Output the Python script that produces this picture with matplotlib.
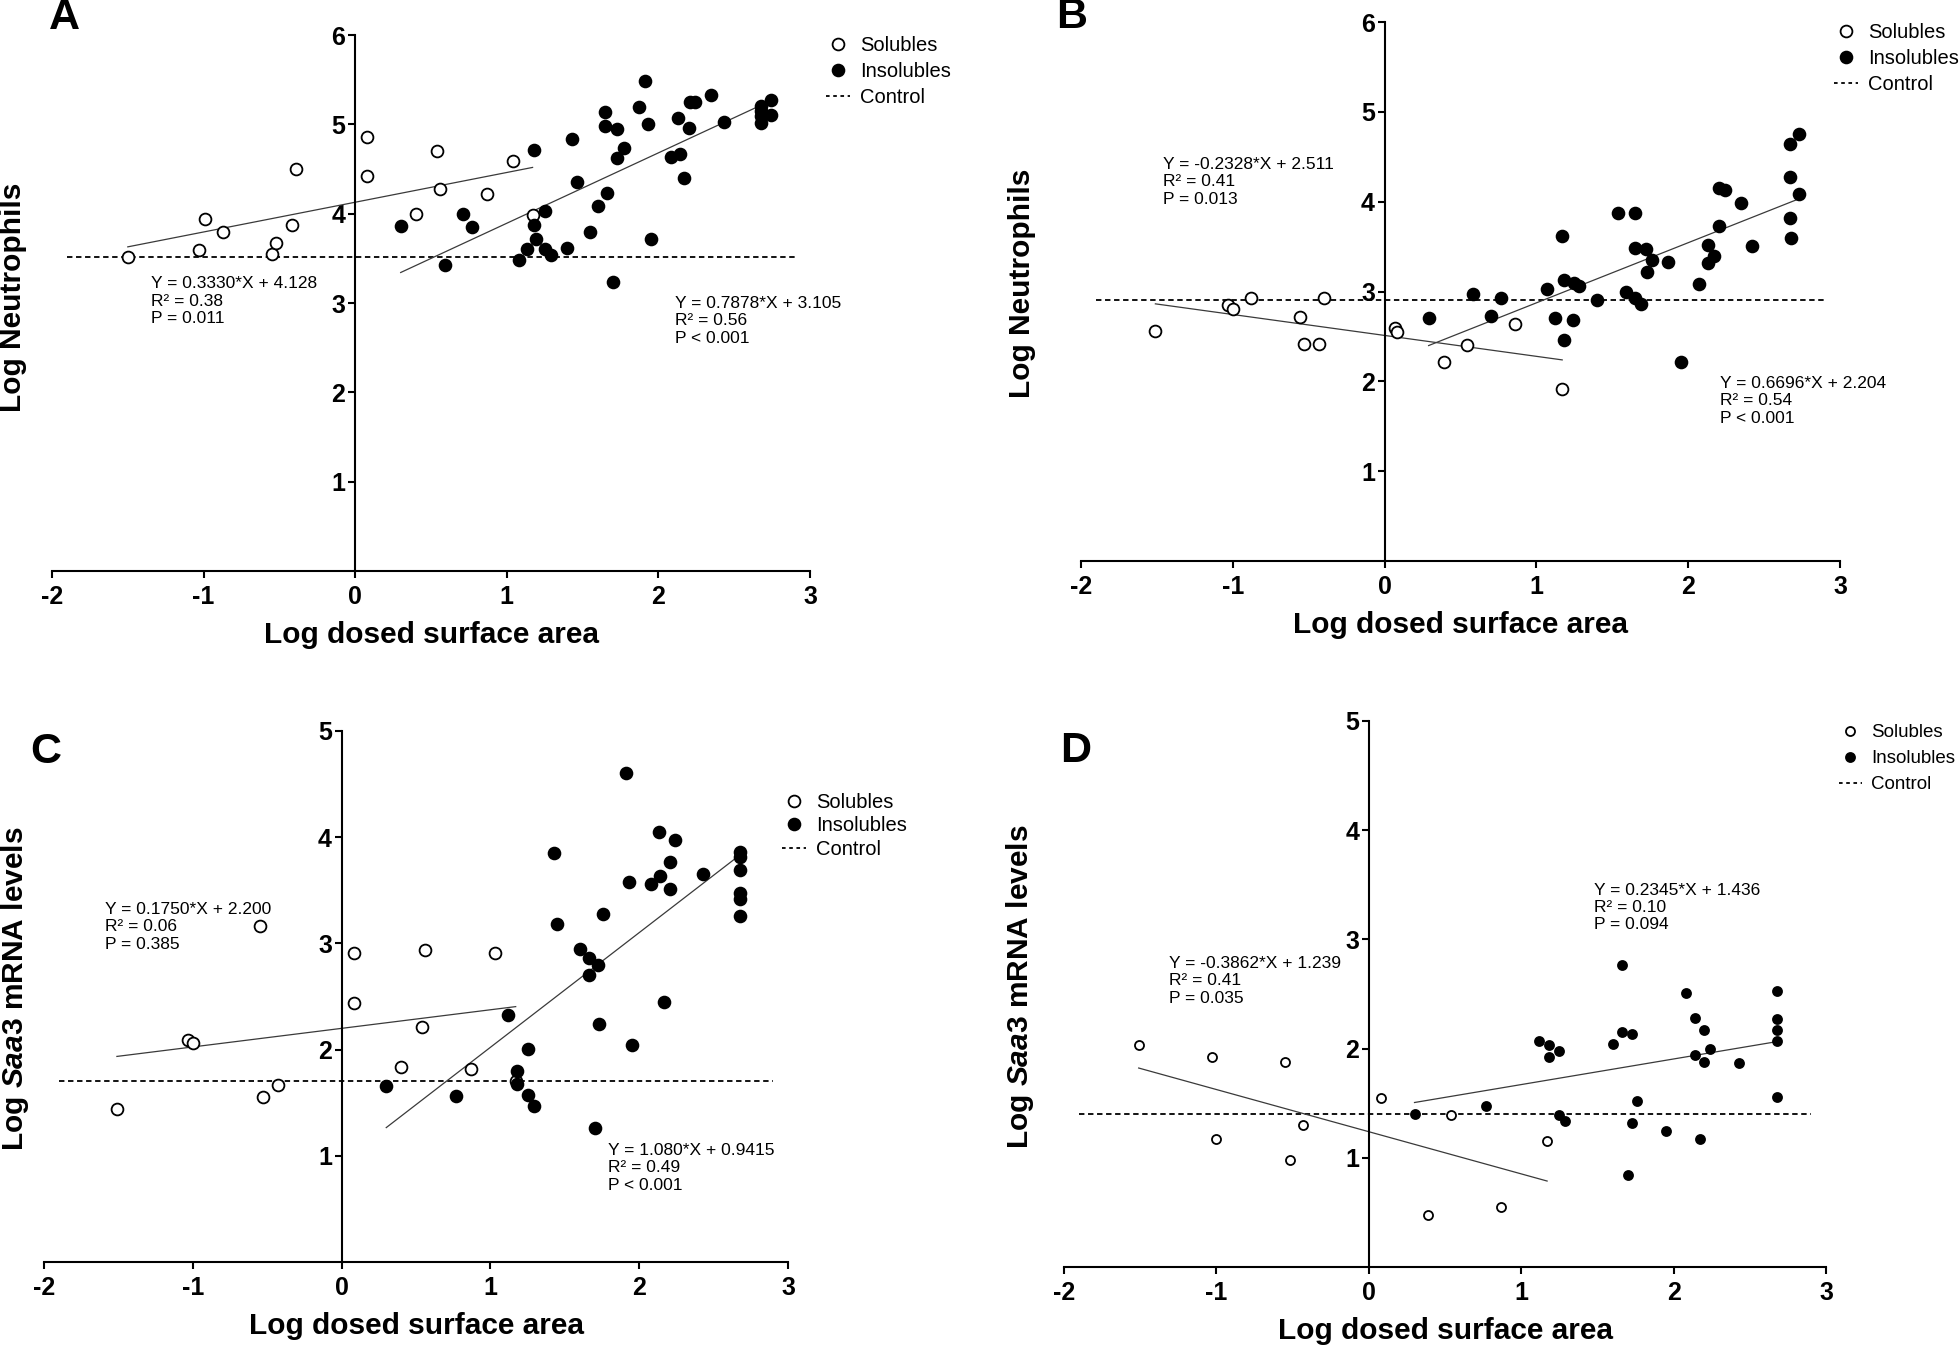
import numpy as np
import matplotlib.pyplot as plt
from matplotlib.lines import Line2D

plt.rcParams['font.family'] = ['Liberation Sans', 'DejaVu Sans']
plt.rcParams['mathtext.fontset'] = 'custom'
plt.rcParams['mathtext.it'] = 'Liberation Sans:italic:bold'
plt.rcParams['mathtext.rm'] = 'Liberation Sans:bold'
plt.rcParams['axes.unicode_minus'] = False

# ---- panel A: neutrophils, 1st data set
a_sol_x = [-1.50, -1.03, -0.99, -0.87, -0.55, -0.52, -0.42, -0.39, 0.08, 0.08, 0.40, 0.54, 0.56, 0.87, 1.04, 1.17]
a_sol_y = [3.51, 3.59, 3.94, 3.79, 3.55, 3.67, 3.87, 4.50, 4.86, 4.42, 4.00, 4.70, 4.28, 4.22, 4.59, 3.98]
a_ins_x = [0.30, 0.59, 0.71, 0.77, 1.08, 1.13, 1.18, 1.18, 1.19, 1.25, 1.25, 1.29, 1.40, 1.43, 1.46,
           1.55, 1.60, 1.65, 1.65, 1.66, 1.70, 1.73, 1.73, 1.77, 1.87, 1.91, 1.93, 1.95, 2.08, 2.13,
           2.14, 2.17, 2.20, 2.21, 2.24, 2.35, 2.43, 2.68, 2.68, 2.68, 2.68, 2.74, 2.74]
a_ins_y = [3.86, 3.42, 4.00, 3.85, 3.48, 3.61, 4.71, 3.87, 3.72, 4.03, 3.61, 3.54, 3.62, 4.84, 4.35,
           3.80, 4.09, 5.14, 4.98, 4.23, 3.23, 4.95, 4.62, 4.74, 5.19, 5.48, 5.00, 3.72, 4.63, 5.07,
           4.67, 4.40, 4.96, 5.25, 5.25, 5.33, 5.03, 5.21, 5.15, 5.09, 5.01, 5.27, 5.10]
a_ctrl = 3.51
a_fit_sol = (0.3330, 4.128)
a_fit_ins = (0.7878, 3.105)
a_txt_sol = "Y = 0.3330*X + 4.128\nR² = 0.38\nP = 0.011"
a_txt_ins = "Y = 0.7878*X + 3.105\nR² = 0.56\nP < 0.001"

# ---- panel B: neutrophils, 2nd data set
b_sol_x = [-1.51, -1.03, -1.00, -0.88, -0.56, -0.53, -0.43, -0.40, 0.07, 0.08, 0.39, 0.54, 0.86, 1.17]
b_sol_y = [2.56, 2.85, 2.81, 2.93, 2.72, 2.42, 2.42, 2.93, 2.59, 2.55, 2.22, 2.41, 2.64, 1.92]
b_ins_x = [0.29, 0.58, 0.70, 0.77, 1.07, 1.12, 1.17, 1.18, 1.18, 1.24, 1.25, 1.28, 1.40, 1.54, 1.59,
           1.65, 1.65, 1.65, 1.69, 1.72, 1.73, 1.76, 1.87, 1.95, 2.07, 2.13, 2.13, 2.17, 2.20, 2.20,
           2.24, 2.35, 2.42, 2.67, 2.67, 2.67, 2.68, 2.73, 2.73]
b_ins_y = [2.70, 2.97, 2.73, 2.93, 3.03, 2.70, 3.62, 3.13, 2.46, 2.68, 3.09, 3.06, 2.91, 3.87, 3.00,
           3.87, 3.48, 2.93, 2.86, 3.47, 3.22, 3.35, 3.33, 2.22, 3.08, 3.52, 3.32, 3.40, 3.73, 4.15,
           4.13, 3.98, 3.51, 4.64, 4.27, 3.82, 3.59, 4.75, 4.09]
b_ctrl = 2.90
b_fit_sol = (-0.2328, 2.511)
b_fit_ins = (0.6696, 2.204)
b_txt_sol = "Y = -0.2328*X + 2.511\nR² = 0.41\nP = 0.013"
b_txt_ins = "Y = 0.6696*X + 2.204\nR² = 0.54\nP < 0.001"

# ---- panel C: Saa3, 1st data set
c_sol_x = [-1.51, -1.03, -1.00, -0.55, -0.53, -0.43, 0.08, 0.08, 0.40, 0.54, 0.56, 0.87, 1.03, 1.17]
c_sol_y = [1.44, 2.09, 2.06, 3.16, 1.55, 1.67, 2.91, 2.44, 1.84, 2.21, 2.94, 1.82, 2.91, 1.70]
c_ins_x = [0.30, 0.77, 1.12, 1.18, 1.18, 1.25, 1.25, 1.29, 1.43, 1.45, 1.60, 1.66, 1.66, 1.70, 1.72,
           1.73, 1.76, 1.91, 1.93, 1.95, 2.08, 2.13, 2.14, 2.17, 2.21, 2.21, 2.24, 2.43, 2.68, 2.68,
           2.68, 2.68, 2.68, 2.68]
c_ins_y = [1.66, 1.56, 2.33, 1.80, 1.68, 1.57, 2.01, 1.47, 3.85, 3.18, 2.95, 2.86, 2.70, 1.26, 2.80,
           2.24, 3.28, 4.60, 3.58, 2.04, 3.56, 4.05, 3.63, 2.45, 3.77, 3.51, 3.97, 3.65, 3.86, 3.81,
           3.69, 3.47, 3.42, 3.26]
c_ctrl = 1.70
c_fit_sol = (0.1750, 2.200)
c_fit_ins = (1.080, 0.9415)
c_txt_sol = "Y = 0.1750*X + 2.200\nR² = 0.06\nP = 0.385"
c_txt_ins = "Y = 1.080*X + 0.9415\nR² = 0.49\nP < 0.001"

# ---- panel D: Saa3, 2nd data set
d_sol_x = [-1.51, -1.03, -1.00, -0.55, -0.52, -0.43, 0.08, 0.39, 0.54, 0.87, 1.17]
d_sol_y = [2.03, 1.92, 1.17, 1.88, 0.98, 1.30, 1.55, 0.48, 1.39, 0.55, 1.15]
d_ins_x = [0.30, 0.77, 1.12, 1.18, 1.18, 1.25, 1.25, 1.29, 1.60, 1.66, 1.66, 1.70, 1.73, 1.73, 1.76,
           1.95, 2.08, 2.14, 2.14, 2.17, 2.20, 2.20, 2.24, 2.43, 2.68, 2.68, 2.68, 2.68, 2.68]
d_ins_y = [1.40, 1.47, 2.07, 2.03, 1.92, 1.98, 1.39, 1.34, 2.04, 2.77, 2.15, 0.84, 1.32, 2.13, 1.52,
           1.25, 2.51, 2.28, 1.94, 1.17, 2.17, 1.88, 2.00, 1.87, 2.53, 2.27, 2.17, 2.07, 1.56]
d_ctrl = 1.40
d_fit_sol = (-0.3862, 1.239)
d_fit_ins = (0.2345, 1.436)
d_txt_sol = "Y = -0.3862*X + 1.239\nR² = 0.41\nP = 0.035"
d_txt_ins = "Y = 0.2345*X + 1.436\nR² = 0.10\nP = 0.094"

x_ticks = [-2, -1, 0, 1, 2, 3]
x_tick_labels = ["-2", "-1", "0", "1", "2", "3"]
ylab_neut = "Log Neutrophils"
ylab_saa3 = r"Log $\mathit{Saa3}$ mRNA levels"
xlab = "Log dosed surface area"
legend_labels = ["Solubles", "Insolubles", "Control"]

W, H = 1960, 1349
fig = plt.figure(figsize=(W / 100, H / 100), dpi=100)


def fx(px):
    return px / W


def fy(py):
    return 1 - py / H


def panel(box, ymax, sx, sy, ix, iy, ctrl, fs, fi, ts, ti, ts_pos, ti_pos,
          ylabel, ylab_px, letter, letter_px, leg_px, leg_gap, leg_size, ms):
    left, right, top, bottom = box
    ax = fig.add_axes([fx(left), fy(bottom), fx(right - left), (bottom - top) / H])
    ax.set_xlim(-2, 3)
    ax.set_ylim(0, ymax)
    ax.patch.set_alpha(0)
    for s in ['top', 'right']:
        ax.spines[s].set_visible(False)
    ax.spines['left'].set_position(('data', 0))
    ax.spines['left'].set_linewidth(1.5)
    ax.spines['bottom'].set_linewidth(1.5)
    ax.set_xticks(x_ticks, labels=x_tick_labels, fontweight='bold', fontsize=18)
    y_ticks = list(range(1, ymax + 1))
    ax.set_yticks(y_ticks, labels=[str(v) for v in y_ticks], fontweight='bold', fontsize=18)
    ax.tick_params(axis='both', direction='out', length=5, width=1.5)
    ax.tick_params(axis='x', pad=5)
    ax.tick_params(axis='y', pad=2)

    # control level
    ax.plot([-1.9, 2.9], [ctrl, ctrl], color='black', lw=1.3, dashes=(3, 2), zorder=1)

    # regression lines over each group's x range
    for xs, (m, b) in [(sx, fs), (ix, fi)]:
        xl = np.array([min(xs), max(xs)])
        ax.plot(xl, m * xl + b, color='#3a3a3a', lw=0.9, zorder=2)

    ax.plot(sx, sy, 'o', ms=ms, mfc='white', mec='black', mew=1.3, zorder=3)
    ax.plot(ix, iy, 'o', ms=ms, mfc='black', mec='black', mew=1.3, zorder=3)

    ax.text(ts_pos[0], ts_pos[1], ts, fontsize=12.5, va='top', ha='left', linespacing=1.2)
    ax.text(ti_pos[0], ti_pos[1], ti, fontsize=12.5, va='top', ha='left', linespacing=1.2)

    # axis titles
    ax.set_xlabel(xlab, fontsize=21.5, fontweight='bold', va='center')
    ax.xaxis.set_label_coords(0.5, -64 / (bottom - top))
    ax.set_ylabel(ylabel, fontsize=21.5, fontweight='bold', va='center')
    ax.yaxis.set_label_coords((ylab_px[0] - left) / (right - left),
                              (bottom - ylab_px[1]) / (bottom - top))

    fig.text(fx(letter_px[0]), fy(letter_px[1]), letter, fontsize=31,
             fontweight='bold', ha='center', va='center')

    handles = [Line2D([], [], ls='none', marker='o', ms=ms, mfc='white', mec='black', mew=1.3),
               Line2D([], [], ls='none', marker='o', ms=ms, mfc='black', mec='black', mew=1.3),
               Line2D([], [], color='black', lw=1.3, dashes=(2, 2))]
    ax.legend(handles, legend_labels, loc='upper left', frameon=False, fontsize=leg_size,
              bbox_to_anchor=(fx(leg_px[0] - 12), fy(leg_px[1] - 13)),
              bbox_transform=fig.transFigure, borderpad=0, borderaxespad=0,
              handlelength=1.2, handletextpad=0.5, labelspacing=leg_gap)
    return ax


panel((52, 810, 35, 571), 6, a_sol_x, a_sol_y, a_ins_x, a_ins_y, a_ctrl, a_fit_sol, a_fit_ins,
      a_txt_sol, a_txt_ins, (-1.35, 3.30), (2.11, 3.08),
      ylab_neut, (13, 297), "A", (64, 18), (838, 49), 0.35, 14.5, 8.5)

panel((1081, 1840, 22, 561), 6, b_sol_x, b_sol_y, b_ins_x, b_ins_y, b_ctrl, b_fit_sol, b_fit_ins,
      b_txt_sol, b_txt_ins, (-1.46, 4.50), (2.21, 2.06),
      ylab_neut, (1022, 283), "B", (1072, 17), (1846, 36), 0.35, 14.5, 8.5)

panel((44, 788, 731, 1262), 5, c_sol_x, c_sol_y, c_ins_x, c_ins_y, c_ctrl, c_fit_sol, c_fit_ins,
      c_txt_sol, c_txt_ins, (-1.59, 3.39), (1.79, 1.12),
      ylab_saa3, (15, 989), "C", (46, 752), (794, 806), 0.22, 14.5, 8.5)

panel((1064, 1826, 721, 1267), 5, d_sol_x, d_sol_y, d_ins_x, d_ins_y, d_ctrl, d_fit_sol, d_fit_ins,
      d_txt_sol, d_txt_ins, (-1.31, 2.85), (1.48, 3.52),
      ylab_saa3, (1020, 987), "D", (1076, 751), (1851, 737), 0.48, 13.5, 6.5)

fig.savefig("out.png", dpi=100)
